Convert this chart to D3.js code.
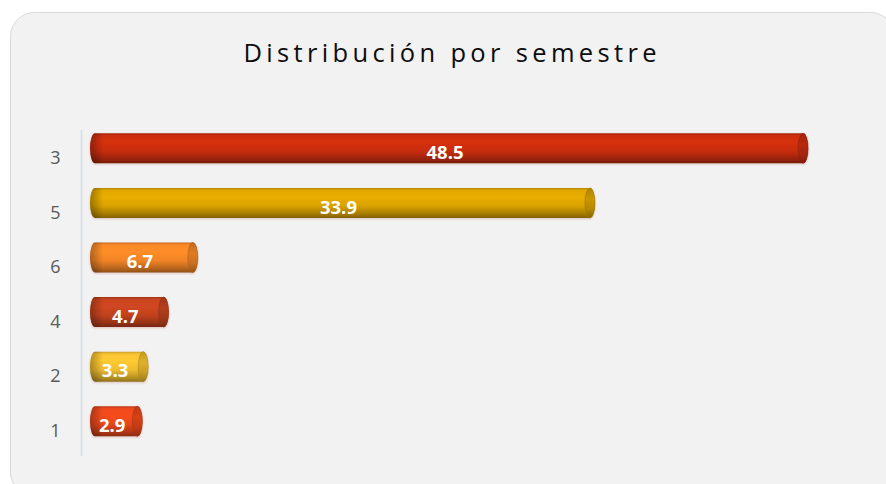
<!DOCTYPE html>
<html>
<head>
<meta charset="utf-8">
<script src="https://cdn.jsdelivr.net/npm/d3@7"></script>
<style>
  html, body { margin: 0; padding: 0; background: #ffffff; }
  svg { display: block; }
</style>
</head>
<body>
<div id="chart"></div>
<script>
// ---- data ----
const title = "Distribución por semestre";
const categories = ["3", "5", "6", "4", "2", "1"];
const values = [48.5, 33.9, 6.7, 4.7, 3.3, 2.9];
const barColors = ["#c62d0a", "#d9a204", "#f08426", "#c2421e", "#efbd2e", "#e6471b"];
const xDomain = [0, 50];

const W = 886, H = 484;
const svg = d3.select("#chart").append("svg").attr("width", W).attr("height", H);
const defs = svg.append("defs");

// chart frame
svg.append("rect")
  .attr("x", 10.5).attr("y", 12.5)
  .attr("width", 884).attr("height", 484)
  .attr("rx", 24).attr("ry", 24)
  .attr("fill", "#f2f2f2")
  .attr("stroke", "#d9d9d9").attr("stroke-width", 1);

// title
svg.append("text")
  .attr("x", 450).attr("y", 62)
  .attr("text-anchor", "middle")
  .attr("font-family", "'Open Sans', sans-serif")
  .attr("font-size", 25.5)
  .attr("fill", "#0d0d0d")
  .attr("textLength", 413)
  .attr("lengthAdjust", "spacing")
  .text(title);

// scales
const y = d3.scaleBand().domain(categories).range([131, 131 + 6 * 54.6]).padding(0);
const x = d3.scaleLinear().domain(xDomain).range([95, 825]);

// axis
const axisG = svg.append("g").attr("transform", "translate(81.5,0)")
  .call(d3.axisLeft(y).tickSize(0).tickPadding(21));
axisG.select(".domain").attr("stroke", "#d3dde6").attr("stroke-width", 1.5)
  .attr("d", `M0,${130}V${456}`);
axisG.selectAll("text")
  .attr("font-family", "'Open Sans', sans-serif")
  .attr("font-size", 18)
  .attr("fill", "#595959");

// gradients
barColors.forEach((c, i) => {
  const base = d3.color(c);
  const g = defs.append("linearGradient").attr("id", "g" + i)
    .attr("x1", 0).attr("y1", 0).attr("x2", 0).attr("y2", 1);
  const stops = [
    [0, base.darker(0.5)],
    [0.08, base.brighter(0.1)],
    [0.3, base.brighter(0.2)],
    [0.6, base],
    [0.85, base.darker(0.7)],
    [1, base.darker(1.4)]
  ];
  stops.forEach(([o, col]) => g.append("stop").attr("offset", o).attr("stop-color", col.formatHex()));
  const cap = defs.append("linearGradient").attr("id", "c" + i)
    .attr("x1", 0).attr("y1", 0).attr("x2", 0).attr("y2", 1);
  [[0, base.darker(0.6)], [0.35, base.darker(0.2)], [0.7, base.darker(0.5)], [1, base.darker(1.3)]]
    .forEach(([o, col]) => cap.append("stop").attr("offset", o).attr("stop-color", col.formatHex()));
});
const lg = defs.append("linearGradient").attr("id", "leftShade")
  .attr("x1", 0).attr("y1", 0).attr("x2", 1).attr("y2", 0);
lg.append("stop").attr("offset", 0).attr("stop-color", "#000").attr("stop-opacity", 0.3);
lg.append("stop").attr("offset", 1).attr("stop-color", "#000").attr("stop-opacity", 0);

const filt = defs.append("filter").attr("id", "shadow").attr("x", "-5%").attr("y", "-30%").attr("width", "110%").attr("height", "160%");
filt.append("feGaussianBlur").attr("in", "SourceAlpha").attr("stdDeviation", 1.2).attr("result", "b");
filt.append("feOffset").attr("dx", 0).attr("dy", 1).attr("result", "o");
filt.append("feFlood").attr("flood-color", "#a05040").attr("flood-opacity", 0.3);
filt.append("feComposite").attr("in2", "o").attr("operator", "in");
const fm = filt.append("feMerge");
fm.append("feMergeNode");
fm.append("feMergeNode").attr("in", "SourceGraphic");

const rx = 5, bh = 30;
const bars = svg.append("g").selectAll("g.bar")
  .data(categories.map((c, i) => ({ c, v: values[i], i })))
  .join("g").attr("class", "bar").attr("filter", "url(#shadow)");

bars.each(function(d) {
  const g = d3.select(this);
  const cy = y(d.c) + y.bandwidth() / 2 - 10;
  const top = cy - bh / 2, bot = cy + bh / 2;
  const x0 = x(0), x1 = x(d.v);
  const body = `M${x0},${top} L${x1},${top} A${rx},${bh / 2} 0 0 1 ${x1},${bot} L${x0},${bot} A${rx},${bh / 2} 0 0 1 ${x0},${top} Z`;
  g.append("path").attr("d", body).attr("fill", `url(#g${d.i})`);
  g.append("path")
    .attr("d", `M${x0},${top} L${x0 + 8},${top} L${x0 + 8},${bot} L${x0},${bot} A${rx},${bh / 2} 0 0 1 ${x0},${top} Z`)
    .attr("fill", "url(#leftShade)");
  g.append("ellipse")
    .attr("cx", x1).attr("cy", cy).attr("rx", rx).attr("ry", bh / 2)
    .attr("fill", `url(#c${d.i})`)
    .attr("stroke", d3.color(barColors[d.i]).darker(0.9).formatHex())
    .attr("stroke-width", 0.6);
});

// data labels
svg.append("g").selectAll("text")
  .data(categories.map((c, i) => ({ c, v: values[i] })))
  .join("text")
  .attr("x", d => (x(0) - rx + x(d.v) + rx) / 2 - 4)
  .attr("y", d => y(d.c) + y.bandwidth() / 2 - 10 + 4)
  .attr("dy", "0.36em")
  .attr("text-anchor", "middle")
  .attr("font-family", "'Open Sans', sans-serif")
  .attr("font-weight", "bold")
  .attr("font-size", 18.5)
  .attr("fill", "#ffffff")
  .text(d => d3.format(".1f")(d.v));
</script>
</body>
</html>
